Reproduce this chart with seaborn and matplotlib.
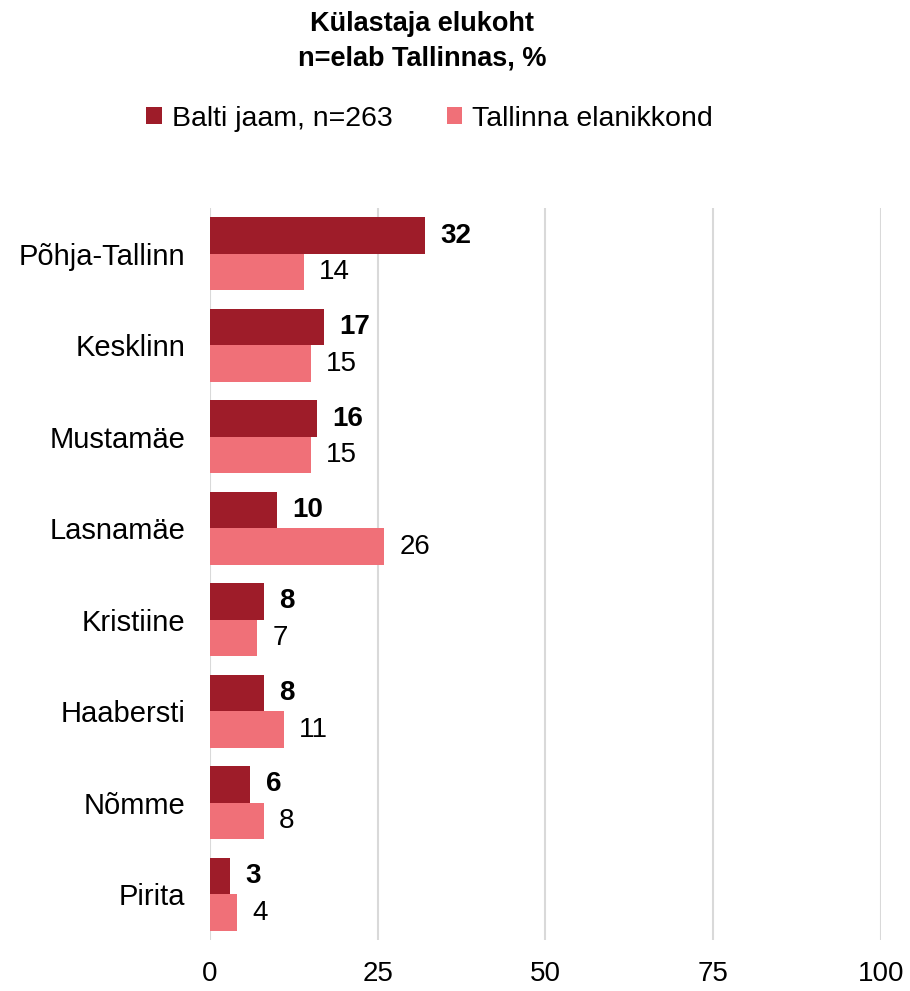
import matplotlib
matplotlib.use("Agg")
import matplotlib.pyplot as plt
import seaborn as sns
import pandas as pd
from matplotlib.patches import Patch

categories = ["Põhja-Tallinn", "Kesklinn", "Mustamäe", "Lasnamäe", "Kristiine", "Haabersti", "Nõmme", "Pirita"]
balti_jaam = [32, 17, 16, 10, 8, 8, 6, 3]
tallinn_pop = [14, 15, 15, 26, 7, 11, 8, 4]
series_names = ["Balti jaam, n=263", "Tallinna elanikkond"]
colors = ["#9E1C29", "#F07078"]
x_ticks = [0, 25, 50, 75, 100]

sns.set_theme(style="white")
plt.rcParams["font.family"] = ["Liberation Sans", "DejaVu Sans"]
plt.rcParams["text.color"] = "black"
plt.rcParams["xtick.color"] = "black"
plt.rcParams["ytick.color"] = "black"

df = pd.DataFrame({
    "category": categories * 2,
    "value": balti_jaam + tallinn_pop,
    "series": [series_names[0]] * len(categories) + [series_names[1]] * len(categories),
})

fig = plt.figure(figsize=(9.1, 9.91), dpi=100)
ax = fig.add_axes([0.2308, 0.0515, 0.968 - 0.2308, 0.790 - 0.0515])

sns.barplot(data=df, y="category", x="value", hue="series", orient="h",
            palette=colors, width=0.8, ax=ax, legend=False, saturation=1,
            linewidth=0)

ax.set_xlim(0, 100)
ax.set_xticks(x_ticks)
ax.set_xticklabels([str(t) for t in x_ticks], fontsize=20)
ax.set_xlabel("")
ax.set_ylabel("")
ax.tick_params(axis="y", labelsize=21, length=0, pad=18)
ax.tick_params(axis="x", length=0, pad=15)
ax.set_ylim(len(categories) - 0.5, -0.5)
ax.grid(axis="x", color="#D9D9D9", linewidth=1.5)
ax.set_axisbelow(True)
for s in ["top", "right", "bottom", "left"]:
    ax.spines[s].set_visible(False)

for i, cont in enumerate(ax.containers):
    ax.bar_label(cont, labels=[str(v) for v in (balti_jaam if i == 0 else tallinn_pop)],
                 padding=11, fontsize=20, fontweight="bold" if i == 0 else "normal",
                 color="black")

fig.text(0.464, 0.9585, "Külastaja elukoht\nn=elab Tallinnas, %", ha="center", va="center",
         fontsize=19.5, fontweight="bold", linespacing=1.45)

handles = [Patch(facecolor=c, edgecolor="none") for c in colors]
fig.legend(handles, series_names, loc="center", bbox_to_anchor=(0.472, 0.880), ncol=2,
           frameon=False, fontsize=20.5, handlelength=0.55, handleheight=0.55,
           handletextpad=0.35, columnspacing=1.9)

fig.savefig("out.png", dpi=100)
